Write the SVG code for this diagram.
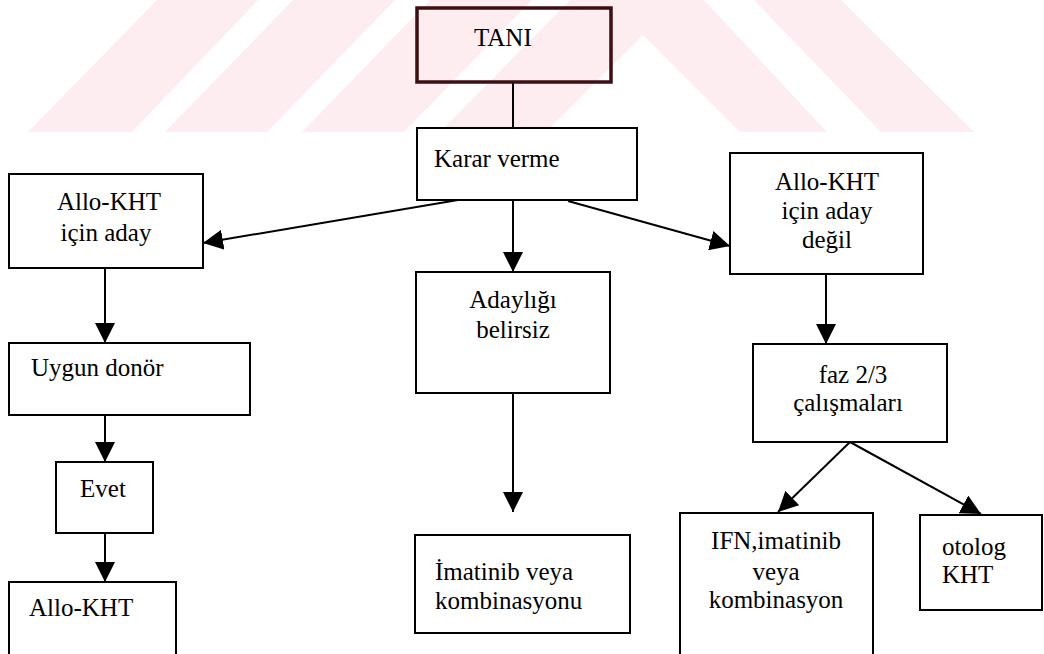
<svg xmlns="http://www.w3.org/2000/svg" width="1044" height="654" viewBox="0 0 1044 654">
<defs>
<marker id="ah" markerUnits="userSpaceOnUse" markerWidth="20" markerHeight="20" refX="20" refY="10" orient="auto">
<path d="M0,0 L20,10 L0,20 z" fill="#000"/>
</marker>
<style>
.box{fill:#fff;stroke:#000;stroke-width:2}
.tani{fill:none;stroke:#3d0e14;stroke-width:3.5}
.t{font-family:"Liberation Serif","Times New Roman",serif;font-size:25px;fill:#000}
.c{text-anchor:middle}
.ln{stroke:#000;stroke-width:2;fill:none}
.ar{stroke:#000;stroke-width:2;fill:none;marker-end:url(#ah)}
.wm{fill:#fdedf0}
</style>
</defs>
<rect width="1044" height="654" fill="#fff"/>
<g id="watermark">
<polygon class="wm" points="28,132 132,132 258,0 157,0"/>
<polygon class="wm" points="165,132 267,132 395,0 293,0"/>
<polygon class="wm" points="302,132 404,132 532,0 430,0"/>
<polygon class="wm" points="440,132 546,132 643,35 740,132 827,132 704,0 570,0"/>
<polygon class="wm" points="754,0 841,0 974,132 881,132"/>
</g>
<g id="connectors">
<line class="ln" x1="513" y1="82" x2="513" y2="128"/>
<line class="ar" x1="458" y1="200" x2="203" y2="243"/>
<line class="ar" x1="513" y1="200" x2="513" y2="272"/>
<line class="ar" x1="568" y1="201" x2="730" y2="246"/>
<line class="ar" x1="105" y1="268" x2="105" y2="343"/>
<line class="ar" x1="105" y1="415" x2="105" y2="462"/>
<line class="ar" x1="105" y1="533" x2="105" y2="582"/>
<line class="ar" x1="513" y1="393" x2="513" y2="512"/>
<line class="ar" x1="826" y1="274" x2="826" y2="344"/>
<line class="ar" x1="850" y1="442" x2="778" y2="512"/>
<line class="ar" x1="850" y1="442" x2="981" y2="514"/>
</g>
<g id="n-tani">
<rect class="tani" x="417" y="8" width="194" height="74"/>
<text class="t" x="474" y="46">TANI</text>
</g>
<g id="n-karar">
<rect class="box" x="417" y="128" width="220" height="72"/>
<text class="t" x="434" y="167">Karar verme</text>
</g>
<g id="n-aday">
<rect class="box" x="9" y="174" width="194" height="94"/>
<text class="t c" x="109" y="210">Allo-KHT</text>
<text class="t c" x="106" y="241">için aday</text>
</g>
<g id="n-belirsiz">
<rect class="box" x="416" y="272" width="194" height="121"/>
<text class="t c" x="513" y="308">Adaylığı</text>
<text class="t c" x="513" y="338">belirsiz</text>
</g>
<g id="n-degil">
<rect class="box" x="730" y="153" width="193" height="121"/>
<text class="t c" x="827" y="190">Allo-KHT</text>
<text class="t c" x="827" y="219">için aday</text>
<text class="t c" x="827" y="248">değil</text>
</g>
<g id="n-donor">
<rect class="box" x="9" y="343" width="241" height="72"/>
<text class="t" x="31" y="376">Uygun donör</text>
</g>
<g id="n-evet">
<rect class="box" x="56" y="462" width="97" height="71"/>
<text class="t c" x="103" y="497">Evet</text>
</g>
<g id="n-allokht">
<rect class="box" x="9" y="582" width="167" height="90"/>
<text class="t" x="29" y="616">Allo-KHT</text>
</g>
<g id="n-imatinib">
<rect class="box" x="415" y="535" width="215" height="98"/>
<text class="t" x="435" y="580">İmatinib veya</text>
<text class="t" x="435" y="609">kombinasyonu</text>
</g>
<g id="n-faz">
<rect class="box" x="753" y="344" width="194" height="98"/>
<text class="t c" x="853" y="383">faz 2/3</text>
<text class="t c" x="848" y="411">çalışmaları</text>
</g>
<g id="n-ifn">
<rect class="box" x="680" y="513" width="193" height="160"/>
<text class="t c" x="776" y="549">IFN,imatinib</text>
<text class="t c" x="776" y="580">veya</text>
<text class="t c" x="776" y="608">kombinasyon</text>
</g>
<g id="n-otolog">
<rect class="box" x="920" y="515" width="122" height="95"/>
<text class="t" x="942" y="555">otolog</text>
<text class="t" x="942" y="583">KHT</text>
</g>
</svg>
